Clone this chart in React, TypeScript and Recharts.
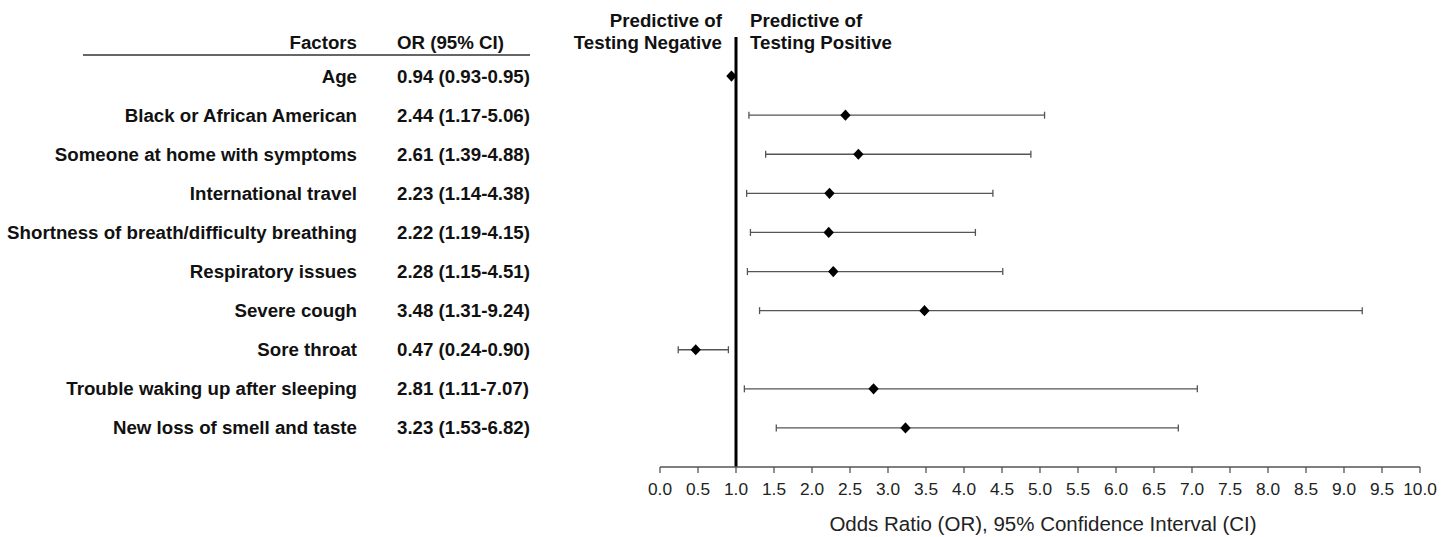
import React from "react";
import {
  ScatterChart,
  Scatter,
  XAxis,
  YAxis,
  ErrorBar,
  ReferenceLine,
  Customized,
} from "recharts";

const factors = [
  "Age",
  "Black or African American",
  "Someone at home with symptoms",
  "International travel",
  "Shortness of breath/difficulty breathing",
  "Respiratory issues",
  "Severe cough",
  "Sore throat",
  "Trouble waking up after sleeping",
  "New loss of smell and taste",
];
const oddsRatio = [0.94, 2.44, 2.61, 2.23, 2.22, 2.28, 3.48, 0.47, 2.81, 3.23];
const ciLow = [0.93, 1.17, 1.39, 1.14, 1.19, 1.15, 1.31, 0.24, 1.11, 1.53];
const ciHigh = [0.95, 5.06, 4.88, 4.38, 4.15, 4.51, 9.24, 0.9, 7.07, 6.82];
const orLabels = [
  "0.94 (0.93-0.95)",
  "2.44 (1.17-5.06)",
  "2.61 (1.39-4.88)",
  "2.23 (1.14-4.38)",
  "2.22 (1.19-4.15)",
  "2.28 (1.15-4.51)",
  "3.48 (1.31-9.24)",
  "0.47 (0.24-0.90)",
  "2.81 (1.11-7.07)",
  "3.23 (1.53-6.82)",
];
const xTicks = [
  0, 0.5, 1, 1.5, 2, 2.5, 3, 3.5, 4, 4.5, 5, 5.5, 6, 6.5, 7, 7.5, 8, 8.5, 9,
  9.5, 10,
];
const xTickLabels = [
  "0.0", "0.5", "1.0", "1.5", "2.0", "2.5", "3.0", "3.5", "4.0", "4.5", "5.0",
  "5.5", "6.0", "6.5", "7.0", "7.5", "8.0", "8.5", "9.0", "9.5", "10.0",
];
const rowIndex = [0, 1, 2, 3, 4, 5, 6, 7, 8, 9];

const data = rowIndex.map((i) => ({
  row: i,
  or: oddsRatio[i],
  err: [oddsRatio[i] - ciLow[i], ciHigh[i] - oddsRatio[i]],
}));

const FONT = "'Liberation Sans', Arial, Helvetica, sans-serif";
const BOLD_SIZE = 18.7;

const Diamond = (props: any) => {
  const { cx, cy } = props;
  if (cx == null || cy == null) return null;
  const w = 5.2;
  const h = 5.6;
  return (
    <polygon
      points={`${cx - w},${cy} ${cx},${cy - h} ${cx + w},${cy} ${cx},${cy + h}`}
      fill="#000"
    />
  );
};

const RowTick = (props: any) => {
  const { y, payload } = props;
  const i = payload.value;
  return (
    <g>
      <text
        x={357}
        y={y}
        textAnchor="end"
        dominantBaseline="central"
        fontFamily={FONT}
        fontWeight="bold"
        fontSize={BOLD_SIZE}
        fill="#111"
      >
        {factors[i]}
      </text>
      <text
        x={397}
        y={y}
        textAnchor="start"
        dominantBaseline="central"
        fontFamily={FONT}
        fontWeight="bold"
        fontSize={BOLD_SIZE}
        fill="#111"
      >
        {orLabels[i]}
      </text>
    </g>
  );
};

const Headers = () => (
  <g fontFamily={FONT} fontWeight="bold" fontSize={BOLD_SIZE} fill="#111">
    <text x={722} y={27} textAnchor="end">Predictive of</text>
    <text x={722} y={48.5} textAnchor="end">Testing Negative</text>
    <text x={750} y={27} textAnchor="start">Predictive of</text>
    <text x={750} y={48.5} textAnchor="start">Testing Positive</text>
    <text x={357} y={48.5} textAnchor="end">Factors</text>
    <text x={397} y={48.5} textAnchor="start">OR (95% CI)</text>
    <line x1={83} y1={55} x2={530} y2={55} stroke="#333" strokeWidth={1.5} />
    <text
      x={1043}
      y={531}
      textAnchor="middle"
      fontWeight="normal"
      fontSize={20.5}
      fill="#222"
    >
      Odds Ratio (OR), 95% Confidence Interval (CI)
    </text>
  </g>
);

export default function App() {
  return (
    <div style={{ position: "absolute", left: 0, top: 0, width: 1456, height: 537, background: "#fff" }}>
      <ScatterChart
        width={1456}
        height={537}
        margin={{ top: 37, right: 36, bottom: 0, left: 0 }}
      >
        <XAxis
          type="number"
          dataKey="or"
          domain={[0, 10]}
          ticks={xTicks}
          interval={0}
          tickFormatter={(v: number) => xTickLabels[xTicks.indexOf(v)]}
          height={70}
          axisLine={{ stroke: "#555", strokeWidth: 1.3 }}
          tickLine={{ stroke: "#555", strokeWidth: 1.3 }}
          tickSize={6}
          tickMargin={10}
          tick={{ fill: "#222", fontSize: 17.3, fontFamily: FONT }}
          allowDataOverflow
        />
        <YAxis
          type="number"
          dataKey="row"
          domain={[-1, 10]}
          reversed
          ticks={rowIndex}
          interval={0}
          width={660}
          axisLine={false}
          tickLine={false}
          tick={<RowTick />}
          allowDataOverflow
        />
        <ReferenceLine x={1} stroke="#000" strokeWidth={3} />
        <Scatter data={data} shape={<Diamond />} isAnimationActive={false}>
          <ErrorBar
            dataKey="err"
            direction="x"
            width={3.5}
            stroke="#555"
            strokeWidth={1.3}
            isAnimationActive={false}
          />
        </Scatter>
        <Customized component={<Headers />} />
      </ScatterChart>
    </div>
  );
}
